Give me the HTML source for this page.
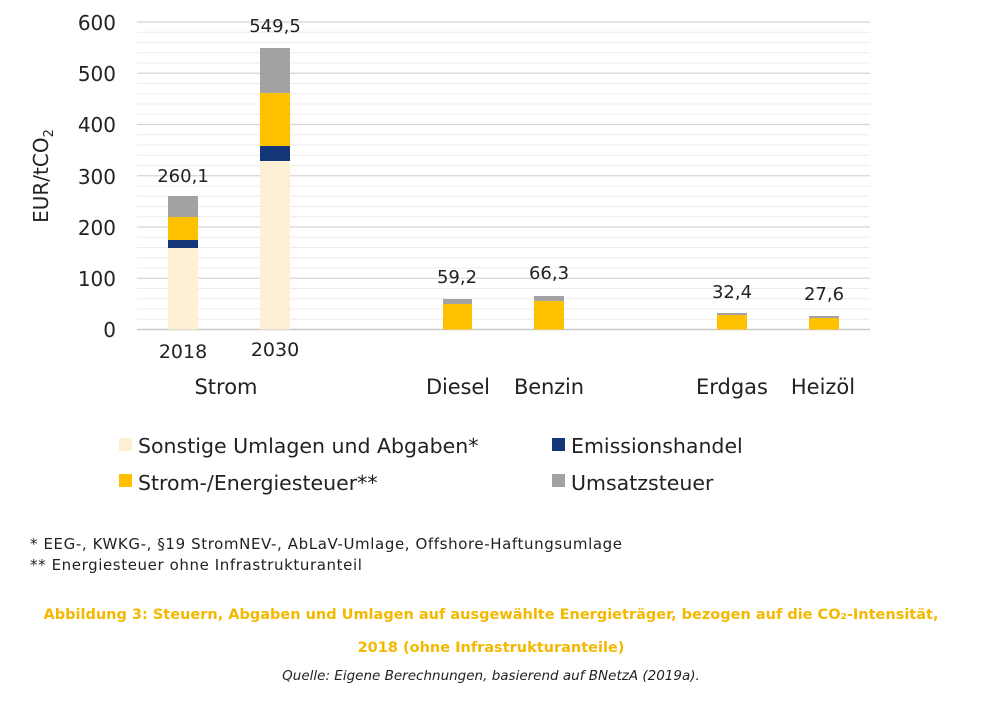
<!DOCTYPE html>
<html><head><meta charset="utf-8"><style>
body{margin:0;background:#fff;width:1000px;height:704px;overflow:hidden;font-family:"DejaVu Sans","Liberation Sans",sans-serif;}
</style></head><body>
<svg width="1000" height="704" xmlns="http://www.w3.org/2000/svg" font-family="'DejaVu Sans','Liberation Sans',sans-serif">
<g stroke="#ececec" stroke-width="1">
<line x1="137" x2="870" y1="319.25" y2="319.25"/><line x1="137" x2="870" y1="309" y2="309"/><line x1="137" x2="870" y1="298.75" y2="298.75"/><line x1="137" x2="870" y1="288.5" y2="288.5"/>
<line x1="137" x2="870" y1="268" y2="268"/><line x1="137" x2="870" y1="257.75" y2="257.75"/><line x1="137" x2="870" y1="247.5" y2="247.5"/><line x1="137" x2="870" y1="237.25" y2="237.25"/>
<line x1="137" x2="870" y1="216.75" y2="216.75"/><line x1="137" x2="870" y1="206.5" y2="206.5"/><line x1="137" x2="870" y1="196.25" y2="196.25"/><line x1="137" x2="870" y1="186" y2="186"/>
<line x1="137" x2="870" y1="165.5" y2="165.5"/><line x1="137" x2="870" y1="155.25" y2="155.25"/><line x1="137" x2="870" y1="145" y2="145"/><line x1="137" x2="870" y1="134.75" y2="134.75"/>
<line x1="137" x2="870" y1="114.25" y2="114.25"/><line x1="137" x2="870" y1="104" y2="104"/><line x1="137" x2="870" y1="93.75" y2="93.75"/><line x1="137" x2="870" y1="83.5" y2="83.5"/>
<line x1="137" x2="870" y1="63" y2="63"/><line x1="137" x2="870" y1="52.75" y2="52.75"/><line x1="137" x2="870" y1="42.5" y2="42.5"/><line x1="137" x2="870" y1="32.25" y2="32.25"/>
</g>
<g stroke="#d4d4d4" stroke-width="1.2">
<line x1="137" x2="870" y1="278.25" y2="278.25"/><line x1="137" x2="870" y1="227" y2="227"/><line x1="137" x2="870" y1="175.75" y2="175.75"/><line x1="137" x2="870" y1="124.5" y2="124.5"/><line x1="137" x2="870" y1="73.25" y2="73.25"/><line x1="137" x2="870" y1="22" y2="22"/>
</g>
<line x1="137" x2="870" y1="329.5" y2="329.5" stroke="#c8c8c8" stroke-width="1.5"/>
<g font-size="20" fill="#222" text-anchor="end">
<text x="116" y="337">0</text><text x="116" y="286">100</text><text x="116" y="235">200</text><text x="116" y="184">300</text><text x="116" y="132">400</text><text x="116" y="81">500</text><text x="116" y="30">600</text>
</g>
<text transform="translate(48,176) rotate(-90)" font-size="20" fill="#222" text-anchor="middle">EUR/tCO<tspan font-size="13" dy="5">2</tspan></text>
<rect x="168" y="248" width="30" height="81.5" fill="#fdf0d5"/>
<rect x="168" y="240" width="30" height="8" fill="#14377a"/>
<rect x="168" y="217" width="30" height="23" fill="#ffc000"/>
<rect x="168" y="196" width="30" height="21" fill="#a0a2a3"/>
<rect x="260" y="161" width="30" height="168.5" fill="#fdf0d5"/>
<rect x="260" y="146" width="30" height="15" fill="#14377a"/>
<rect x="260" y="93" width="30" height="53" fill="#ffc000"/>
<rect x="260" y="48" width="30" height="45" fill="#a0a2a3"/>
<rect x="443" y="304" width="29" height="25.5" fill="#ffc000"/><rect x="443" y="299" width="29" height="5" fill="#a0a2a3"/>
<rect x="534" y="301" width="30" height="28.5" fill="#ffc000"/><rect x="534" y="296" width="30" height="5" fill="#a0a2a3"/>
<rect x="717" y="315" width="30" height="14.5" fill="#ffc000"/><rect x="717" y="313" width="30" height="2" fill="#a0a2a3"/>
<rect x="809" y="318" width="30" height="11.5" fill="#ffc000"/><rect x="809" y="316" width="30" height="2" fill="#a0a2a3"/>
<g font-size="18" fill="#222" text-anchor="middle">
<text x="183" y="182">260,1</text><text x="275" y="32">549,5</text>
<text x="457" y="283">59,2</text><text x="549" y="279">66,3</text>
<text x="732" y="298">32,4</text><text x="824" y="300">27,6</text>
</g>
<g font-size="19" fill="#222" text-anchor="middle">
<text x="183" y="358">2018</text><text x="275" y="356">2030</text>
</g>
<g font-size="21" fill="#222" text-anchor="middle">
<text x="226" y="394">Strom</text><text x="458" y="394" textLength="64">Diesel</text><text x="549" y="394" textLength="70">Benzin</text><text x="732" y="394">Erdgas</text><text x="823" y="394">Heizöl</text>
</g>
<g font-size="20.5" fill="#222">
<rect x="119" y="438" width="13" height="13" fill="#fdf0d5"/><text x="138" y="453">Sonstige Umlagen und Abgaben*</text>
<rect x="119" y="474" width="13" height="13" fill="#ffc000"/><text x="138" y="490">Strom-/Energiesteuer**</text>
<rect x="552" y="438" width="13" height="13" fill="#14377a"/><text x="571" y="453">Emissionshandel</text>
<rect x="552" y="474" width="13" height="13" fill="#a0a2a3"/><text x="571" y="490">Umsatzsteuer</text>
</g>
<g font-size="15" fill="#222" letter-spacing="0.6">
<text x="30" y="549">*  EEG-, KWKG-, §19 StromNEV-, AbLaV-Umlage, Offshore-Haftungsumlage</text>
<text x="30" y="570">** Energiesteuer ohne Infrastrukturanteil</text>
</g>
<g font-size="14.5" fill="#f5b800" font-weight="bold" text-anchor="middle">
<text x="491" y="619">Abbildung 3: Steuern, Abgaben und Umlagen auf ausgewählte Energieträger, bezogen auf die CO₂-Intensität,</text>
<text x="491" y="652">2018 (ohne Infrastrukturanteile)</text>
</g>
<text x="491" y="680" font-size="13.5" font-style="italic" fill="#222" text-anchor="middle">Quelle: Eigene Berechnungen, basierend auf BNetzA (2019a).</text>
</svg>
</body></html>
